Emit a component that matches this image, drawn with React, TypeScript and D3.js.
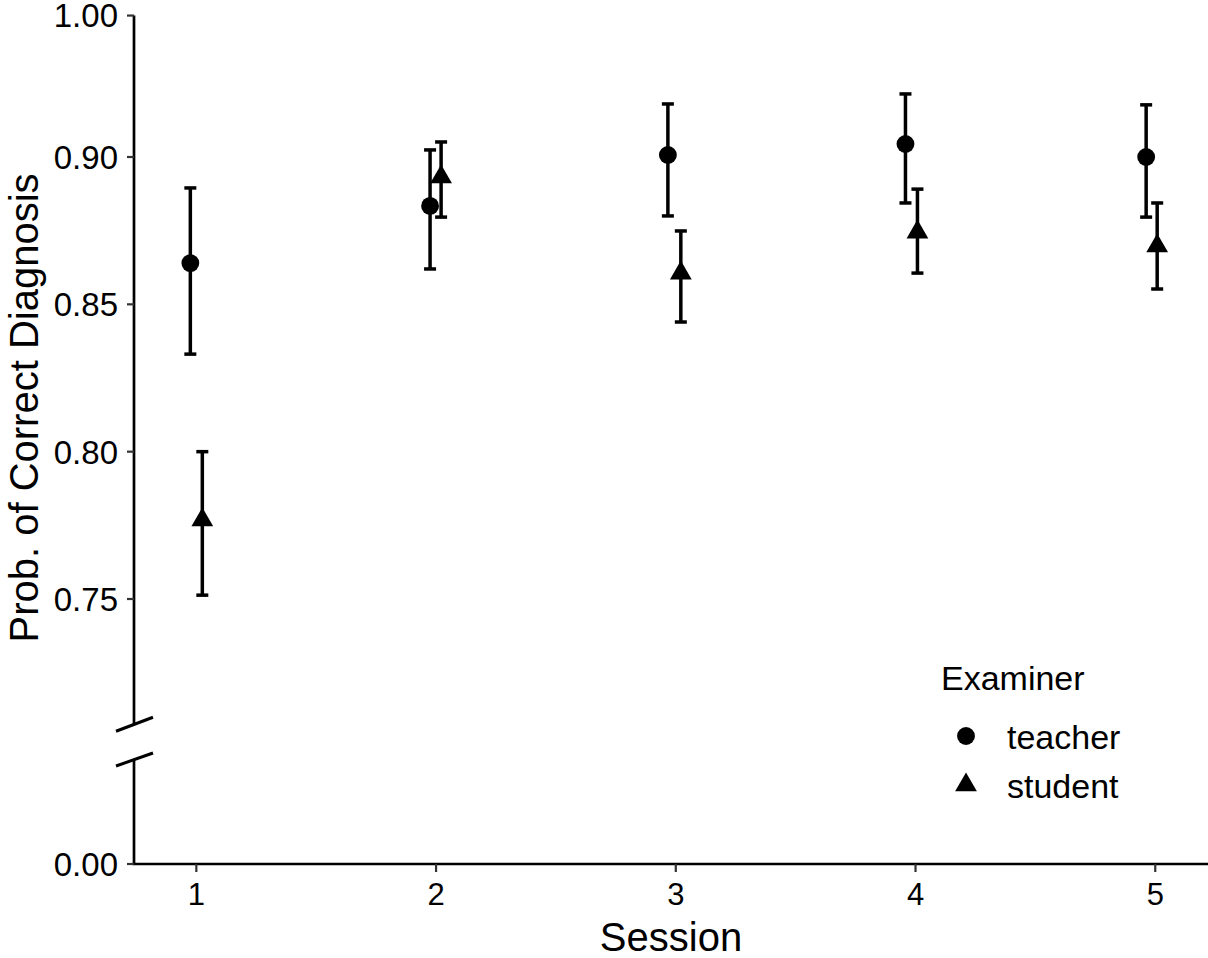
import React from "react";
import * as d3 from "d3";

const sessions = [1, 2, 3, 4, 5];
const sessionLabels = ["1", "2", "3", "4", "5"];

const teacherMean = [0.864, 0.8834, 0.9007, 0.9044, 0.9];
const teacherLower = [0.8331, 0.862, 0.88, 0.8844, 0.8796];
const teacherUpper = [0.8895, 0.9024, 0.918, 0.9214, 0.9177];
const teacherJitter = [-0.025, -0.025, -0.033, -0.042, -0.038];

const studentMean = [0.7768, 0.8932, 0.8606, 0.8745, 0.8698];
const studentLower = [0.7513, 0.8796, 0.844, 0.8606, 0.8552];
const studentUpper = [0.8, 0.9051, 0.8749, 0.8891, 0.8844];
const studentJitter = [0.025, 0.021, 0.021, 0.008, 0.008];

const yTickValues = [0.75, 0.8, 0.85, 0.9, 0.948];
const yTickLabels = ["0.75", "0.80", "0.85", "0.90", "1.00"];
const yBottomTickValues = [0];
const yBottomTickLabels = ["0.00"];

const legendTitle = "Examiner";
const legendLabels = ["teacher", "student"];

const W = 1208;
const H = 958;
const FONT = "'Liberation Sans', Arial, Helvetica, sans-serif";

export default function App() {
  const axisX = 134;
  const x = d3.scaleLinear().domain([0.74, 5.22]).range([axisX, 1208]);
  const yUp = d3.scaleLinear().domain([0.75, 0.9]).range([599, 157]);
  const yUpperTopVal = 0.948;
  const yUpperBotVal = 0.7075;
  const yLow = d3.scaleLinear().domain([0, 0.035]).range([864, 759]);

  const tri = d3.symbol().type(d3.symbolTriangle).size(205)();
  const circ = d3.symbol().type(d3.symbolCircle).size(250)();

  const capHalf = 6;
  const sw = 3.5;

  const series = [
    { mean: teacherMean, lo: teacherLower, hi: teacherUpper, jit: teacherJitter, sym: circ },
    { mean: studentMean, lo: studentLower, hi: studentUpper, jit: studentJitter, sym: tri },
  ];

  return (
    <div style={{ position: "absolute", left: 0, top: 0 }}>
      <svg width={W} height={H} style={{ display: "block", background: "#fff" }} fontFamily={FONT}>
        {/* Y axis upper segment */}
        <line x1={axisX} x2={axisX} y1={yUp(yUpperTopVal)} y2={yUp(yUpperBotVal)} stroke="#000" strokeWidth={2.7} />
        {/* Y axis lower segment */}
        <line x1={axisX} x2={axisX} y1={yLow(0.035)} y2={yLow(0)} stroke="#000" strokeWidth={2.7} />
        {/* break marks */}
        <line x1={116} y1={yUp(yUpperBotVal) + 7} x2={153} y2={yUp(yUpperBotVal) - 7} stroke="#000" strokeWidth={3} />
        <line x1={116} y1={yLow(0.035) + 7} x2={153} y2={yLow(0.035) - 6} stroke="#000" strokeWidth={3} />
        {/* X axis */}
        <line x1={axisX - 1.3} x2={W} y1={yLow(0)} y2={yLow(0)} stroke="#000" strokeWidth={2.7} />

        {/* Y ticks */}
        {yTickValues.map((v, i) => (
          <g key={"yt" + i} transform={`translate(${axisX},${yUp(v)})`}>
            <line x1={-7} x2={0} stroke="#333" strokeWidth={2.2} />
            <text x={-16} dy="0.36em" textAnchor="end" fontSize={33} fill="#000">
              {yTickLabels[i]}
            </text>
          </g>
        ))}
        {yBottomTickValues.map((v, i) => (
          <g key={"ybt" + i} transform={`translate(${axisX},${yLow(v)})`}>
            <line x1={-7} x2={0} stroke="#333" strokeWidth={2.2} />
            <text x={-16} dy="0.36em" textAnchor="end" fontSize={33} fill="#000">
              {yBottomTickLabels[i]}
            </text>
          </g>
        ))}

        {/* X ticks */}
        {sessions.map((s, i) => (
          <g key={"xt" + i} transform={`translate(${x(s)},${yLow(0)})`}>
            <line y1={0} y2={8} stroke="#333" strokeWidth={2.2} />
            <text y={41} textAnchor="middle" fontSize={31} fill="#000">
              {sessionLabels[i]}
            </text>
          </g>
        ))}

        {/* Axis titles */}
        <text x={(axisX + W) / 2} y={951} textAnchor="middle" fontSize={40} fill="#000">
          Session
        </text>
        <text
          transform={`translate(38,408) rotate(-90)`}
          textAnchor="middle"
          fontSize={40}
          fill="#000"
        >
          Prob. of Correct Diagnosis
        </text>

        {/* Error bars and points */}
        {series.map((s, si) =>
          sessions.map((sess, i) => {
            const cx = x(sess + s.jit[i]);
            return (
              <g key={`p${si}-${i}`}>
                <line x1={cx} x2={cx} y1={yUp(s.hi[i])} y2={yUp(s.lo[i])} stroke="#000" strokeWidth={sw} />
                <line x1={cx - capHalf} x2={cx + capHalf} y1={yUp(s.hi[i])} y2={yUp(s.hi[i])} stroke="#000" strokeWidth={sw} />
                <line x1={cx - capHalf} x2={cx + capHalf} y1={yUp(s.lo[i])} y2={yUp(s.lo[i])} stroke="#000" strokeWidth={sw} />
                <path d={s.sym || ""} transform={`translate(${cx},${yUp(s.mean[i])})`} fill="#000" />
              </g>
            );
          })
        )}

        {/* Legend */}
        <g>
          <text x={941} y={690} fontSize={34} fill="#000">
            {legendTitle}
          </text>
          {legendLabels.map((lab, i) => (
            <g key={"lg" + i} transform={`translate(0,${i * 49})`}>
              <path d={i === 0 ? circ || "" : tri || ""} transform={`translate(966,736)`} fill="#000" />
              <text x={1007} y={749} fontSize={34} fill="#000">
                {lab}
              </text>
            </g>
          ))}
        </g>
      </svg>
    </div>
  );
}
